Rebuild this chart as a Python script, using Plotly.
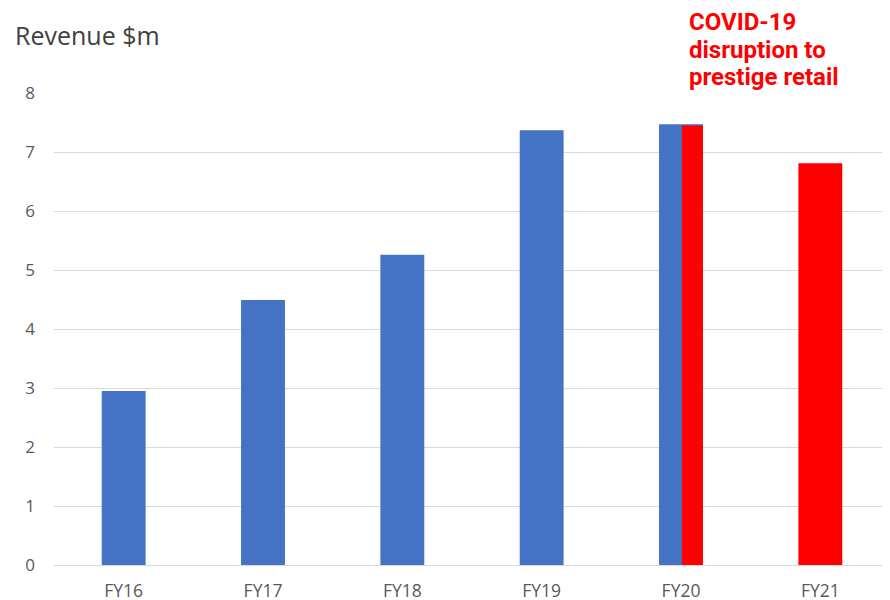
import plotly.graph_objects as go

categories = ["FY16", "FY17", "FY18", "FY19", "FY20", "FY21"]
blue_cats = ["FY16", "FY17", "FY18", "FY19", "FY20"]
blue_vals = [2.95, 4.49, 5.26, 7.37, 7.47]
red_cats = ["FY20", "FY21"]
red_vals = [7.45, 6.81]
y_ticks = [0, 1, 2, 3, 4, 5, 6, 7, 8]
note_lines = ["COVID-19", "disruption to", "prestige retail"]

BW = 0.315
L, T, PW, PH = 46, 85, 836, 472

fig = go.Figure()
fig.add_trace(go.Bar(
    x=blue_cats, y=blue_vals, marker_color="#4472C4", marker_line_width=0,
    width=BW, offset=-BW / 2, showlegend=False,
))
fig.add_trace(go.Bar(
    x=red_cats, y=red_vals, marker_color="#FF0000", marker_line_width=0,
    width=[BW * 0.48, BW], offset=[-BW / 2 + BW * 0.52, -BW / 2], showlegend=False,
))

annotations = [
    dict(text="Revenue $m", xref="paper", yref="paper", x=(5 - L) / PW,
         y=1 + (T - 27.5) / PH, xanchor="left", yanchor="middle", showarrow=False,
         font=dict(family="Open Sans", size=25, color="#404040")),
]
for i, line in enumerate(note_lines):
    yc = 14 + 27.5 * i
    annotations.append(dict(
        text="<b>" + line + "</b>", xref="paper", yref="paper", x=(680 - L) / PW,
        y=1 + (T - yc) / PH, xanchor="left", yanchor="middle", showarrow=False,
        borderpad=0, font=dict(family="Roboto", size=24, color="#FF0000")))

fig.update_layout(
    width=882, height=592,
    margin=dict(l=L, r=0, t=T, b=592 - T - PH),
    barmode="overlay",
    plot_bgcolor="white", paper_bgcolor="white",
    xaxis=dict(categoryorder="array", categoryarray=categories, showgrid=False,
               showline=False, zeroline=False, ticks="", automargin=False,
               tickfont=dict(family="Open Sans", size=17.5, color="#595959"),
               ticklabelstandoff=13),
    yaxis=dict(range=[0, 8], tickvals=y_ticks, showgrid=True, gridcolor="#D9D9D9",
               gridwidth=1, zeroline=True, zerolinecolor="#D9D9D9", zerolinewidth=1,
               showline=False, ticks="", automargin=False,
               tickfont=dict(family="Open Sans", size=17, color="#595959"),
               ticklabelstandoff=18),
    annotations=annotations,
)

fig.write_html("out.html")
